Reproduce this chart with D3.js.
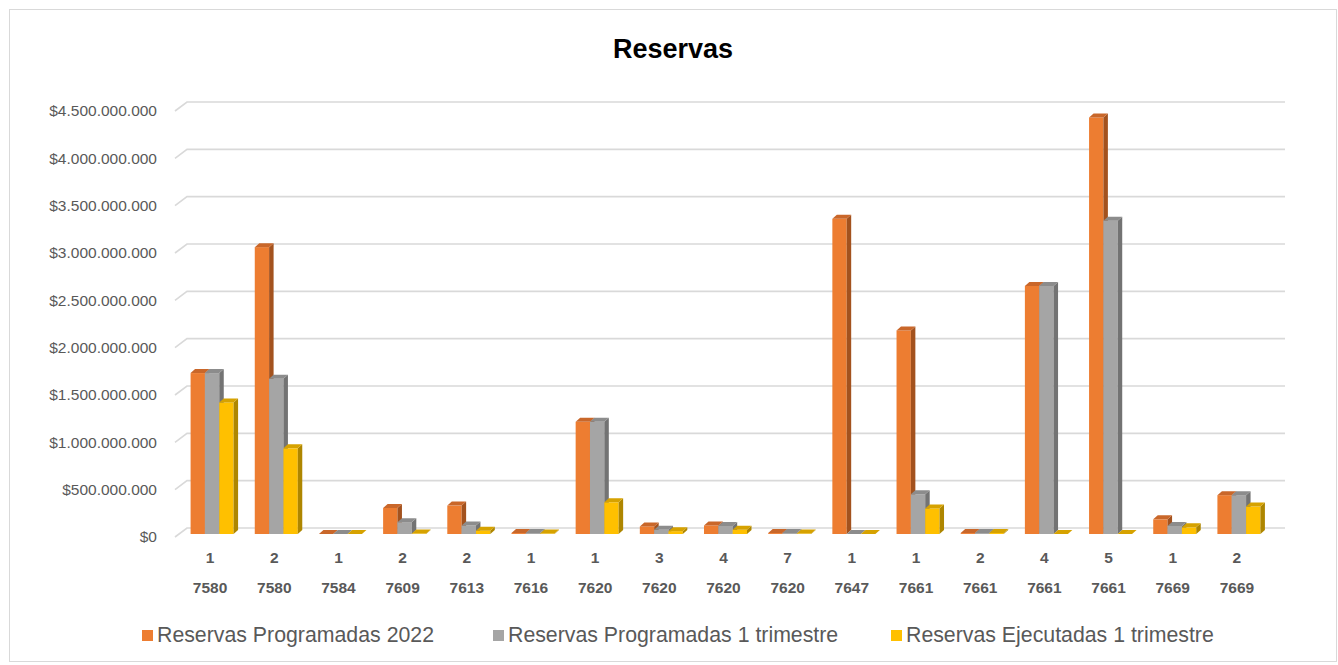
<!DOCTYPE html>
<html>
<head>
<meta charset="utf-8">
<script src="https://cdn.jsdelivr.net/npm/d3@7"></script>
<style>
  html, body { margin: 0; padding: 0; background: #fff; }
  svg { display: block; font-family: "Liberation Sans", Arial, sans-serif; }
</style>
</head>
<body>
<svg id="chart" width="1338" height="665"></svg>
<script>
// datos
const subLabels = ['1', '2', '1', '2', '2', '1', '1', '3', '4', '7', '1', '1', '2', '4', '5', '1', '2'];
const codeLabels = ['7580', '7580', '7584', '7609', '7613', '7616', '7620', '7620', '7620', '7620', '7647', '7661', '7661', '7661', '7661', '7669', '7669'];
const seriesNames = ['Reservas Programadas 2022', 'Reservas Programadas 1 trimestre', 'Reservas Ejecutadas 1 trimestre'];
const programadas2022 = [1700e6, 3030e6, 0, 275e6, 300e6, 10e6, 1185e6, 80e6, 90e6, 10e6, 3330e6, 2150e6, 10e6, 2620e6, 4400e6, 155e6, 410e6];
const programadas1t = [1700e6, 1640e6, 0, 125e6, 90e6, 10e6, 1185e6, 45e6, 85e6, 10e6, 0, 420e6, 10e6, 2620e6, 3310e6, 85e6, 410e6];
const ejecutadas1t = [1390e6, 905e6, 0, 5e6, 35e6, 5e6, 335e6, 30e6, 45e6, 5e6, 0, 270e6, 10e6, 0, 0, 70e6, 290e6];
const tickValues = [0, 500e6, 1000e6, 1500e6, 2000e6, 2500e6, 3000e6, 3500e6, 4000e6, 4500e6];

const series = [programadas2022, programadas1t, ejecutadas1t];
// caras: frente, arriba, lado
const faceColors = [
    ['#ED7D31', '#C9672A', '#A3521E'],
    ['#A5A5A5', '#8C8C8C', '#737373'],
    ['#FFC000', '#D6A200', '#AE8600']
];

const svg = d3.select('#chart');
const depthX = 4.5, depthY = -4;       // profundidad de las columnas

svg.append('rect')
    .attr('x', 9.5).attr('y', 9.5)
    .attr('width', 1327).attr('height', 652)
    .attr('fill', '#fff')
    .attr('stroke', '#D9D9D9');

svg.append('text')
    .attr('x', 673).attr('y', 58)
    .attr('text-anchor', 'middle')
    .attr('font-size', 27)
    .attr('font-weight', 'bold')
    .attr('fill', '#000')
    .text('Reservas');

const y = d3.scaleLinear().domain([0, 4500e6]).range([534, 108]);
const x = d3.scaleBand()
    .domain(d3.range(codeLabels.length))
    .range([180, 1271])
    .paddingInner(0.33)
    .paddingOuter(0.165);
const xs = d3.scaleBand().domain(d3.range(series.length)).range([0, x.bandwidth()]);

// lineas de division (pared del fondo + pared lateral)
const grid = svg.append('g').attr('class', 'grid');
tickValues.forEach((v) => {
    const yf = y(v) + 3;
    const yb = y(v) - 6;
    grid.append('path')
        .attr('d', 'M175,' + yf + 'L187,' + yb + 'H1285')
        .attr('fill', 'none')
        .attr('stroke', '#D9D9D9')
        .attr('stroke-width', 1.6);
});

const fmt = (v) => '$' + d3.format(',')(v).replace(/,/g, '.');
svg.append('g')
    .selectAll('text')
    .data(tickValues)
    .join('text')
    .attr('x', 157)
    .attr('y', (d) => y(d) + 3)
    .attr('dy', '0.35em')
    .attr('text-anchor', 'end')
    .attr('font-size', 15.5)
    .attr('fill', '#595959')
    .text(fmt);

// columnas 3D
const bars = svg.append('g').attr('class', 'bars');
codeLabels.forEach((c, i) => {
    series.forEach((s, k) => {
        const x0 = x(i) + xs(k);
        const w = xs.bandwidth();
        const yt = y(s[i]);
        const y0 = y(0);
        const col = faceColors[k];
        bars.append('rect')
            .attr('x', x0).attr('y', yt)
            .attr('width', w).attr('height', y0 - yt)
            .attr('fill', col[0]);
        bars.append('path')
            .attr('d', 'M' + (x0 + w) + ',' + yt + 'l' + depthX + ',' + depthY +
                'V' + (y0 + depthY) + 'l' + (-depthX) + ',' + (-depthY) + 'Z')
            .attr('fill', col[2]);
        bars.append('path')
            .attr('d', 'M' + x0 + ',' + yt + 'l' + depthX + ',' + depthY +
                'h' + w + 'l' + (-depthX) + ',' + (-depthY) + 'Z')
            .attr('fill', col[1]);
    });
});

// etiquetas de categoria (dos niveles)
const cats = svg.append('g')
    .attr('font-size', 15.5)
    .attr('font-weight', 'bold')
    .attr('fill', '#595959')
    .attr('text-anchor', 'middle');
cats.selectAll('text.sub')
    .data(subLabels)
    .join('text')
    .attr('class', 'sub')
    .attr('x', (d, i) => x(i) + x.bandwidth() / 2 - 2)
    .attr('y', 563)
    .text((d) => d);
cats.selectAll('text.code')
    .data(codeLabels)
    .join('text')
    .attr('class', 'code')
    .attr('x', (d, i) => x(i) + x.bandwidth() / 2 - 2)
    .attr('y', 593)
    .text((d) => d);

// leyenda
const legendX = [142, 493, 891];
const legend = svg.append('g');
seriesNames.forEach((n, k) => {
    legend.append('rect')
        .attr('x', legendX[k]).attr('y', 630)
        .attr('width', 11).attr('height', 11)
        .attr('fill', faceColors[k][0]);
    legend.append('text')
        .attr('x', legendX[k] + 15).attr('y', 642)
        .attr('font-size', 21.3)
        .attr('fill', '#595959')
        .text(n);
});
</script>
</body>
</html>
